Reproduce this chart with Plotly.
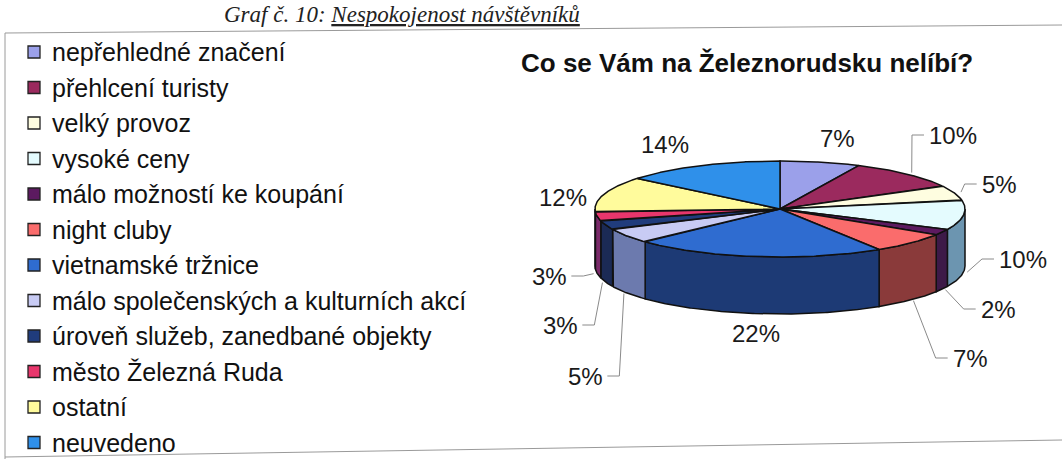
import numpy as np
import plotly.graph_objects as go

# ---------------- data ----------------
categories = [
    "nepřehledné značení",
    "přehlcení turisty",
    "velký provoz",
    "vysoké ceny",
    "málo možností ke koupání",
    "night cluby",
    "vietnamské tržnice",
    "málo společenských a kulturních akcí",
    "úroveň služeb, zanedbané objekty",
    "město Železná Ruda",
    "ostatní",
    "neuvedeno",
]
shares = [7, 10, 5, 10, 2, 7, 22, 5, 3, 3, 12, 14]  # percent

chart_title = "Co se Vám na Železnorudsku nelíbí?"
header_text = "Graf č. 10: <u>Nespokojenost návštěvníků</u>"

# ---------------- styles ----------------
top_colors = ["#9ba0ea", "#9b2a5e", "#fefde0", "#e4fbfe", "#5c1a60", "#fa6c6c",
              "#2f6cd0", "#c8cbf4", "#203c7c", "#e8366c", "#fffb9c", "#2f90ea"]
side_colors = ["#5b5f9a", "#5e1a3a", "#b0ae90", "#6c95b0", "#3d1a48", "#8a3a3a",
               "#1d3a75", "#6c7aae", "#1b2a55", "#7a2a6a", "#a0a050", "#1d5a95"]

# label positions (pixel centres) and whether a leader line is drawn
label_x = [837, 953, 999, 1023, 998, 970, 756, 585, 560, 549, 563, 665]
label_y = [138, 135, 184, 259, 309, 358, 333, 376, 325, 276, 197, 144]
leader = [False, True, True, True, True, True, False, True, True, True, False, False]

W, H = 1062, 459
CX, CY, RX, RY, DEPTH = 780, 209, 185, 48, 57
FONT = "Arial, Liberation Sans, sans-serif"
FS = 24
LEG_X_SYM, LEG_X_TXT, LEG_Y0, LEG_DY, LEG_FS = 34, 50, 52, 35.5, 25


def rim(theta_deg, dy=0.0, k=1.0):
    t = np.radians(theta_deg)
    return CX + k * RX * np.sin(t), CY - k * RY * np.cos(t) + dy


fig = go.Figure()

total = float(sum(shares))
bounds = np.concatenate([[0.0], np.cumsum(shares) / total * 360.0])

# side walls (front half only: 90..270 deg clockwise from 12 o'clock)
for i, cat in enumerate(categories):
    a0, a1 = bounds[i], bounds[i + 1]
    s0, s1 = max(a0, 90.0), min(a1, 270.0)
    if s1 <= s0:
        continue
    th = np.linspace(s0, s1, max(3, int((s1 - s0) * 2)))
    xt, yt = rim(th)
    xb, yb = rim(th[::-1], dy=DEPTH)
    xs = np.concatenate([xt, xb, xt[:1]])
    ys = np.concatenate([yt, yb, yt[:1]])
    fig.add_trace(go.Scatter(x=xs, y=ys, mode="lines", fill="toself",
                             fillcolor=side_colors[i],
                             line=dict(color="#111111", width=1.5),
                             showlegend=False, hoverinfo="skip"))

# top faces
for i, cat in enumerate(categories):
    a0, a1 = bounds[i], bounds[i + 1]
    th = np.linspace(a0, a1, max(3, int((a1 - a0) * 2)))
    xt, yt = rim(th)
    xs = np.concatenate([[CX], xt, [CX]])
    ys = np.concatenate([[CY], yt, [CY]])
    fig.add_trace(go.Scatter(x=xs, y=ys, mode="lines", fill="toself",
                             fillcolor=top_colors[i],
                             line=dict(color="#111111", width=1.5),
                             showlegend=False, hoverinfo="text",
                             text=f"{cat}: {shares[i]}%"))

# labels and leader lines
annotations = []
for i, v in enumerate(shares):
    txt = f"{v}%"
    annotations.append(dict(x=label_x[i], y=label_y[i], xref="x", yref="y",
                            text=txt, showarrow=False,
                            font=dict(family=FONT, size=FS, color="#1a1a1a"),
                            xanchor="center", yanchor="middle"))
    if not leader[i]:
        continue
    mid = (bounds[i] + bounds[i + 1]) / 2.0
    if 90.0 < mid < 270.0:
        ax_, ay_ = rim(mid, dy=DEPTH, k=1.02)
    else:
        ax_, ay_ = rim(mid, k=1.04)
    hw = (0.556 * len(str(v)) + 0.889) * FS / 2.0
    if label_x[i] > CX:
        end_x = label_x[i] - hw - 5
        elb_x = end_x - 12
    else:
        end_x = label_x[i] + hw + 5
        elb_x = end_x + 12
    fig.add_trace(go.Scatter(x=[ax_, elb_x, end_x], y=[ay_, label_y[i], label_y[i]],
                             mode="lines", line=dict(color="#8a8a8a", width=1),
                             showlegend=False, hoverinfo="skip"))

# legend (drawn as a column of square markers + text)
leg_y = [LEG_Y0 + k * LEG_DY for k in range(len(categories))]
fig.add_trace(go.Scatter(x=[LEG_X_SYM] * len(categories), y=leg_y, mode="markers",
                         marker=dict(symbol="square", size=12, color=top_colors,
                                     line=dict(color="#222222", width=1.3)),
                         showlegend=False, hoverinfo="text", text=categories))
for k, cat in enumerate(categories):
    annotations.append(dict(x=LEG_X_TXT, y=leg_y[k], xref="x", yref="y",
                            text=cat, showarrow=False,
                            font=dict(family=FONT, size=LEG_FS, color="#111111"),
                            xanchor="left", yanchor="middle"))

annotations.append(dict(x=(519 + 975) / 2, y=63, xref="x", yref="y",
                        text=f"<b>{chart_title}</b>", showarrow=False,
                        font=dict(family=FONT, size=26, color="#111111"),
                        xanchor="center", yanchor="middle"))
annotations.append(dict(x=222 / W, y=1.0, xref="paper", yref="paper",
                        text=f"<i>{header_text}</i>", showarrow=False,
                        font=dict(family="Liberation Serif, Times New Roman, serif",
                                  size=23, color="#222222"),
                        xanchor="left", yanchor="top"))

shapes = [
    dict(type="line", xref="x", yref="y", x0=5, y0=33, x1=W, y1=25,
         line=dict(color="#9a9a9a", width=1)),
    dict(type="line", xref="x", yref="y", x0=5, y0=33, x1=5, y1=H,
         line=dict(color="#9a9a9a", width=1)),
    dict(type="line", xref="x", yref="y", x0=5, y0=457, x1=W, y1=440,
         line=dict(color="#9a9a9a", width=1)),
]

fig.update_layout(
    width=W, height=H,
    margin=dict(l=0, r=0, t=0, b=0),
    paper_bgcolor="white", plot_bgcolor="white",
    xaxis=dict(range=[0, W], visible=False, fixedrange=True),
    yaxis=dict(range=[H, 0], visible=False, fixedrange=True),
    showlegend=False,
    annotations=annotations,
    shapes=shapes,
)

fig.write_html("out.html",
               config={"displayModeBar": False},
               post_script="document.body.style.margin='0';document.body.style.overflow='hidden';")
